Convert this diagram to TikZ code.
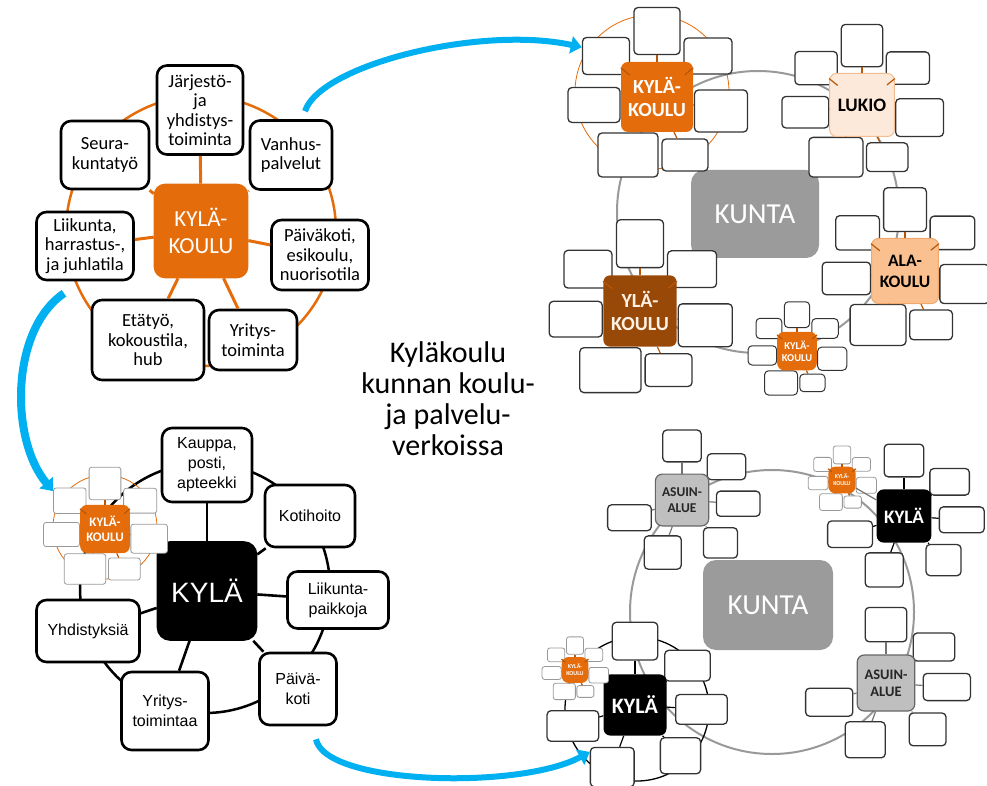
\documentclass[tikz,border=0pt]{standalone}
\usepackage{fontspec}
\setmainfont{Carlito}
\newfontfamily\arialfont{Liberation Sans}
\usetikzlibrary{arrows.meta}

\definecolor{kkorange}{HTML}{E46C0A}
\definecolor{lukiofill}{HTML}{FDE9D9}
\definecolor{alafill}{HTML}{FAC090}
\definecolor{ylabrown}{HTML}{984807}
\definecolor{asuingray}{HTML}{BFBFBF}
\definecolor{kuntagray}{HTML}{9B9B9B}
\definecolor{arrowblue}{HTML}{00B0F0}

% satellite boxes round a hub of 72pt: dx/dy/width/height
\newcommand{\sevensats}{0/-66/46/47, -51/-41/47/37, 51/-41/48/36, -63/8/52/35, 64/14/53/42, -29/58/60/44, 28/58/46/32}
\newcommand{\sixsats}{0/-73/52/43, 60/-45/52/35, 76/5/59/34, -71/24/59/35, -26/71/50/45, 52/58/46/41}

% #1 name, #2 x, #3 y, #4 scale, #5 hub style, #6 label, #7 box style, #8 link style, #9 satellites
\newcommand{\hubcluster}[9]{%
  \foreach \dx/\dy/\w/\h [count=\i] in #9
    \node[satbox, #7, minimum width=#4*\w pt, minimum height=#4*\h pt] (#1-\i) at (#2+#4*\dx, #3+#4*\dy) {};
  \node[hubbox, #5, minimum width=72*#4 pt, minimum height=70*#4 pt] (#1) at (#2,#3) {#6};
  \foreach \s [count=\i] in #9
    \draw[#8] (#1) -- (#1-\i);
}

\begin{document}
\begin{tikzpicture}[x=1pt, y=-1pt,
  bigbox/.style={draw=black, fill=white, line width=2.6pt, rounded corners=10pt, inner sep=1pt, align=center},
  tlfont/.style={font=\fontsize{18.5}{19.5}\selectfont},
  blfont/.style={font=\arialfont\fontsize{16}{20}\selectfont},
  satbox/.style={draw=black!80, fill=white, line width=1.3pt, rounded corners=4pt, inner sep=0pt},
  minisat/.style={draw=black!40, line width=0.8pt, rounded corners=2.5pt},
  hubbox/.style={rounded corners=7pt, inner sep=0pt, align=center},
  hubfont/.style 2 args={font=\bfseries\fontsize{#1}{#2}\selectfont},
  kkhub/.style={fill=kkorange, text=white},
  lukiohub/.style={fill=lukiofill, draw=kkorange!45, line width=1pt, text=black},
  alahub/.style={fill=alafill, draw=kkorange!60, line width=1pt, text=black},
  ylahub/.style={fill=ylabrown, text=white!90!orange},
  asuinhub/.style={fill=asuingray, draw=black!60, line width=1.2pt, text=black!85},
  kylahub/.style={fill=black, text=white},
  kklink/.style={draw=kkorange!80!black, line width=1.2pt},
  graylink/.style={draw=black!55, line width=1.2pt},
  blacklink/.style={draw=black, line width=1.2pt},
  kuntaline/.style={draw=black!40, line width=2pt},
  kuntabox/.style={fill=kuntagray, text=white, rounded corners=13pt, font=\fontsize{29}{29}\selectfont},
  bluearrow/.style={draw=arrowblue, line width=6pt, -{Triangle[width=17pt,length=11pt]}}]
\useasboundingbox (0,0) rectangle (987,786);

% village school and its services
\draw[kkorange, line width=2.5pt] (201,231) circle[radius=135pt];
\node[bigbox, fill=kkorange, draw=kkorange, text=white, minimum width=92pt, minimum height=92pt, font=\fontsize{23}{27}\selectfont] (koulu) at (201,231) {KYLÄ-\\KOULU};
\node[bigbox, tlfont, minimum width=86pt, minimum height=89pt] (jarjesto) at (200,110) {Järjestö-\\ja\\yhdistys-\\toiminta};
\node[bigbox, tlfont, minimum width=88pt, minimum height=68pt] (seura) at (105,155) {Seura-\\kuntatyö};
\node[bigbox, tlfont, minimum width=82pt, minimum height=69pt] (vanhus) at (291,155) {Vanhus-\\palvelut};
\node[bigbox, tlfont, minimum width=97pt, minimum height=68pt] (liikunta) at (85,246) {Liikunta,\\harrastus-,\\ja juhlatila};
\node[bigbox, tlfont, minimum width=97pt, minimum height=70pt] (paivakoti) at (320,255) {Päiväkoti,\\esikoulu,\\nuorisotila};
\node[bigbox, tlfont, minimum width=112pt, minimum height=80pt] (etatyo) at (148,340) {Etätyö,\\kokoustila,\\hub};
\node[bigbox, tlfont, minimum width=88pt, minimum height=60pt] (yritys) at (253,340) {Yritys-\\toiminta};
\foreach \n in {jarjesto,seura,vanhus,liikunta,paivakoti,etatyo,yritys}
  \draw[kkorange, line width=3pt] (koulu) -- (\n);

% village and its services
\draw[black, line width=2.5pt] (205,588) circle[radius=125pt];
\draw[kkorange, line width=0.8pt] (105,527) circle[radius=52pt];
\node[bigbox, fill=black, text=white, minimum width=98pt, minimum height=97pt, rounded corners=12pt, font=\arialfont\fontsize{28}{30}\selectfont] (kyla) at (207,591) {KYLÄ};
\node[bigbox, blfont, minimum width=90pt, minimum height=74pt] (kauppa) at (207,465) {Kauppa,\\posti,\\apteekki};
\node[bigbox, blfont, minimum width=90pt, minimum height=62pt] (kotihoito) at (310,516) {Kotihoito};
\node[bigbox, blfont, minimum width=101pt, minimum height=57pt] (liikuntap) at (338,600) {Liikunta-\\paikkoja};
\node[bigbox, blfont, minimum width=77pt, minimum height=72pt] (paivakoti2) at (298,689) {Päivä-\\koti};
\node[bigbox, blfont, minimum width=87pt, minimum height=78pt] (yritys2) at (165,711) {Yritys-\\toimintaa};
\node[bigbox, blfont, minimum width=103pt, minimum height=62pt] (yhdistys) at (88,631) {Yhdistyksiä};
\foreach \n in {kauppa,kotihoito,liikuntap,paivakoti2,yritys2,yhdistys}
  \draw[black, line width=2.6pt] (kyla) -- (\n);
\hubcluster{pieni}{105}{529}{0.69}{kkhub, hubfont={13}{15}}{KYLÄ-\\KOULU}{minisat}{kklink}{\sevensats}

\node[font=\fontsize{30}{31}\selectfont, align=center] (otsikko) at (448,399) {Kyläkoulu\\kunnan koulu-\\ja palvelu-\\verkoissa};

% school network of the municipality
\draw[kuntaline] (758,212) circle[radius=141pt];
\draw[kkorange, line width=0.8pt] (652,92) circle[radius=77pt];
\node[kuntabox, minimum width=128pt, minimum height=88pt] (kunta1) at (755,214) {KUNTA};
\hubcluster{kk1}{657}{97}{1.0}{kkhub, hubfont={20}{23}}{KYLÄ-\\KOULU}{}{kklink}{\sevensats}
\hubcluster{lukio}{862}{105}{0.9}{lukiohub, hubfont={19}{21}}{LUKIO}{}{kklink}{\sevensats}
\hubcluster{ala}{905}{271}{0.93}{alahub, hubfont={17.5}{21}}{ALA-\\KOULU}{}{kklink}{\sevensats}
\hubcluster{yla}{640}{311}{1.02}{ylahub, hubfont={20}{23}}{YLÄ-\\KOULU}{}{kklink}{\sevensats}
\hubcluster{kk2}{797}{351}{0.55}{kkhub, hubfont={10.5}{12}}{KYLÄ-\\KOULU}{line width=1pt}{kklink}{\sevensats}

% service network of the municipality
\draw[kuntaline] (772,612) circle[radius=142pt];
\draw[black, line width=1.3pt] (637,709) circle[radius=72pt];
\node[kuntabox, minimum width=130pt, minimum height=90pt] (kunta2) at (768,605) {KUNTA};
\hubcluster{asuin1}{682}{500}{0.74}{asuinhub, hubfont={13.5}{16}}{ASUIN-\\ALUE}{}{graylink}{\sixsats}
\hubcluster{kyla1}{904}{516}{0.76}{kylahub, hubfont={19}{19}}{KYLÄ}{}{blacklink}{\sixsats}
\hubcluster{asuin2}{886}{683}{0.8}{asuinhub, hubfont={14.5}{17}}{ASUIN-\\ALUE}{}{graylink}{\sixsats}
\hubcluster{kyla2}{635}{705}{0.875}{kylahub, hubfont={22}{22}}{KYLÄ}{}{blacklink}{\sixsats}
\hubcluster{kk3}{842}{480}{0.38}{kkhub, hubfont={6}{7}}{KYLÄ-\\KOULU}{minisat}{kklink}{\sevensats}
\hubcluster{kk4}{575}{670}{0.37}{kkhub, hubfont={6}{7}}{KYLÄ-\\KOULU}{minisat}{kklink}{\sevensats}
\draw[graylink] (kk3) -- (kyla1);

% arrows between the pictures
\coordinate (nuoli1) at ([shift={(14,-8)}]vanhus.north);
\coordinate (nuoli2) at ([shift={(-21,12)}]liikunta.south);
\coordinate (nuoli3) at ([shift={(18,13)}]paivakoti2.south);
\draw[bluearrow] (nuoli1) .. controls (320,65) and (480,25) .. (kk1-2.160);
\draw[bluearrow, line width=8pt] (nuoli2) .. controls (10,330) and (10,440) .. (pieni-2.150);
\draw[bluearrow] (nuoli3) .. controls (325,785) and (520,790) .. (kyla2-5.146);
\end{tikzpicture}
\end{document}
